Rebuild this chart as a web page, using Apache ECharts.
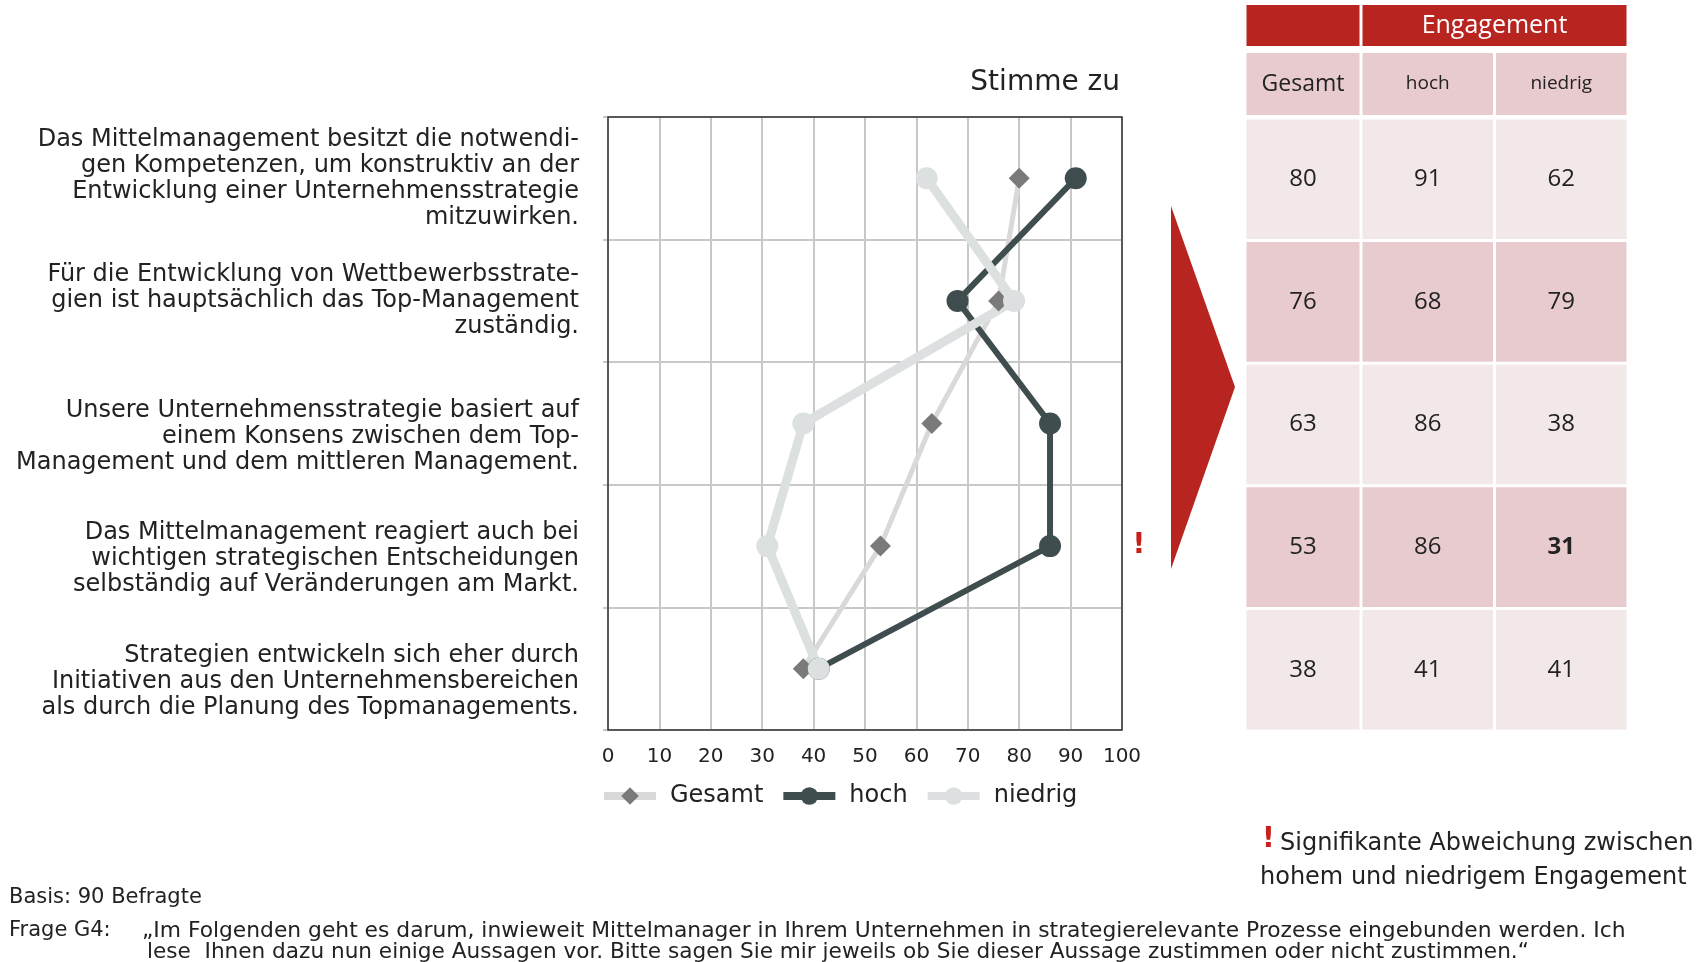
<!DOCTYPE html>
<html>
<head>
<meta charset="utf-8">
<script src="https://cdn.jsdelivr.net/npm/echarts@6/dist/echarts.min.js"></script>
<style>
  html, body { margin: 0; padding: 0; background: #fff; }
  #main { width: 1708px; height: 962px; }
</style>
</head>
<body>
<div id="main"></div>
<script>
var statements = [
  'Das Mittelmanagement besitzt die notwendi-\ngen Kompetenzen, um konstruktiv an der\nEntwicklung einer Unternehmensstrategie\nmitzuwirken.',
  'Für die Entwicklung von Wettbewerbsstrate-\ngien ist hauptsächlich das Top-Management\nzuständig.',
  'Unsere Unternehmensstrategie basiert auf\neinem Konsens zwischen dem Top-\nManagement und dem mittleren Management.',
  'Das Mittelmanagement reagiert auch bei\nwichtigen strategischen Entscheidungen\nselbständig auf Veränderungen am Markt.',
  'Strategien entwickeln sich eher durch\nInitiativen aus den Unternehmensbereichen\nals durch die Planung des Topmanagements.'
];
var gesamt = [80, 76, 63, 53, 38];
var hoch = [91, 68, 86, 86, 41];
var niedrig = [62, 79, 38, 31, 41];
var significant = [false, false, false, true, false];
var tableCols = ['Gesamt', 'hoch', 'niedrig'];

var font = 'DejaVu Sans';
var font2 = 'Open Sans';
var red = '#b8241f';
var rowLight = '#f2e8e8';
var rowDark = '#e8cbce';

// plot and table layout
var plot = { left: 608, top: 117, width: 514, height: 613 };
var tab = { left: 1245, top: 118, width: 383, height: 613 };
var colW = [116, 133.5, 133.5];

// label blocks of rows 3-5 sit a little lower than the band centre
var labelShift = [false, false, true, true, true];

var cells = [];
for (var r = 0; r < gesamt.length; r++) {
  cells.push([0, r, gesamt[r], 0]);
  cells.push([1, r, hoch[r], 0]);
  cells.push([2, r, niedrig[r], significant[r] ? 1 : 0]);
}

function colLeft(i) {
  var x = tab.left;
  for (var k = 0; k < i; k++) x += colW[k];
  return x;
}

var chart = echarts.init(document.getElementById('main'));

var option = {
  animation: false,
  textStyle: { fontFamily: font },
  title: {
    text: 'Stimme zu',
    right: 1708 - plot.left - plot.width - 3,
    top: 64,
    textStyle: { fontFamily: font, fontSize: 28, fontWeight: 'normal', color: '#222' }
  },
  legend: {
    left: 600,
    top: 784,
    padding: 0,
    itemWidth: 52,
    itemHeight: 22,
    itemGap: 16,
    lineStyle: { width: 8 },
    textStyle: { fontFamily: font, fontSize: 24, color: '#222', padding: [0, 0, 0, 9] },
    data: ['Gesamt', 'hoch', 'niedrig']
  },
  grid: [
    { left: plot.left, top: plot.top, width: plot.width, height: plot.height },
    { left: tab.left, top: tab.top, width: tab.width, height: tab.height }
  ],
  xAxis: [
    {
      type: 'value', gridIndex: 0, min: 0, max: 100, interval: 10,
      axisLine: { show: false },
      axisTick: { show: false },
      axisLabel: { fontFamily: font, fontSize: 20, color: '#222', margin: 17 },
      splitLine: { show: true, lineStyle: { color: '#c8c8c8', width: 2 } }
    },
    {
      type: 'category', gridIndex: 1, data: tableCols,
      axisLine: { show: false }, axisTick: { show: false }, axisLabel: { show: false }, splitLine: { show: false }
    }
  ],
  yAxis: [
    {
      type: 'category', gridIndex: 0, inverse: true, data: statements,
      axisLine: { show: false },
      axisTick: { show: true, length: 5, lineStyle: { color: '#c8c8c8', width: 2 } },
      splitLine: { show: true, lineStyle: { color: '#c8c8c8', width: 2 } },
      axisLabel: {
        fontFamily: font, fontSize: 24, lineHeight: 26, color: '#222', align: 'right', margin: 29,
        formatter: function (v, i) { return labelShift[i] ? '\n' + v : v; }
      }
    },
    {
      type: 'category', gridIndex: 1, inverse: true, data: statements,
      axisLine: { show: false }, axisTick: { show: false }, axisLabel: { show: false }, splitLine: { show: false }
    }
  ],
  series: [
    {
      name: 'Gesamt', type: 'line', data: gesamt, xAxisIndex: 0, yAxisIndex: 0,
      symbol: 'diamond', symbolSize: 21,
      lineStyle: { color: '#d9d9d9', width: 5 },
      itemStyle: { color: '#7a7a7a' }
    },
    {
      name: 'hoch', type: 'line', data: hoch, xAxisIndex: 0, yAxisIndex: 0,
      symbol: 'circle', symbolSize: 22,
      lineStyle: { color: '#3f4d4f', width: 6 },
      itemStyle: { color: '#3f4d4f' }
    },
    {
      name: 'niedrig', type: 'line', data: niedrig, xAxisIndex: 0, yAxisIndex: 0,
      symbol: 'circle', symbolSize: 22,
      lineStyle: { color: '#dde0e0', width: 9 },
      itemStyle: { color: '#dde0e0' }
    },
    {
      name: 'table', type: 'custom', xAxisIndex: 1, yAxisIndex: 1, data: cells,
      encode: { x: 0, y: 1 },
      renderItem: function (params, api) {
        var c = api.coord([api.value(0), api.value(1)]);
        var s = api.size([1, 1]);
        var col = api.value(0);
        var row = api.value(1);
        return {
          type: 'rect',
          shape: { x: colLeft(col) + 1.5, y: c[1] - s[1] / 2 + 1.5, width: colW[col] - 3, height: s[1] - 3 },
          style: { fill: row % 2 === 0 ? rowLight : rowDark },
          textContent: {
            style: {
              text: String(api.value(2)),
              fontFamily: font2, fontSize: 24,
              fontWeight: api.value(3) ? 'bold' : 'normal',
              fill: '#222'
            }
          },
          textConfig: { position: 'inside' }
        };
      }
    }
  ]
};
chart.setOption(option);

// header cells, frame and annotations
var excl = chart.convertToPixel({ yAxisIndex: 0 }, 3);
var graphics = [
  { type: 'rect', z: 10, shape: { x: plot.left, y: plot.top, width: plot.width, height: plot.height },
    style: { fill: null, stroke: '#333', lineWidth: 1.5 } },
  { type: 'rect', shape: { x: colLeft(0) + 1.5, y: 5, width: colW[0] - 3, height: 41 }, style: { fill: red } },
  { type: 'rect', shape: { x: colLeft(1) + 1.5, y: 5, width: colW[1] + colW[2] - 3, height: 41 },
    style: { fill: red },
    textContent: { style: { text: 'Engagement', fontFamily: font2, fontSize: 25, fill: '#fff' } },
    textConfig: { position: 'inside' } },
  { type: 'polygon', shape: { points: [[1171, 206], [1235, 387], [1171, 569]] }, style: { fill: red } },
  { type: 'text', x: 1139, y: excl, style: { text: '!', fontFamily: font, fontSize: 28, fontWeight: 'bold', fill: '#c8201c', align: 'center', verticalAlign: 'middle' } },
  { type: 'text', x: 1262, y: 840, style: { text: '!', fontFamily: font, fontSize: 28, fontWeight: 'bold', fill: '#c8201c', align: 'left', verticalAlign: 'middle' } },
  { type: 'text', x: 1280, y: 844, style: { text: 'Signifikante Abweichung zwischen', fontFamily: font, fontSize: 24, fill: '#222', verticalAlign: 'middle' } },
  { type: 'text', x: 1260, y: 878, style: { text: 'hohem und niedrigem Engagement', fontFamily: font, fontSize: 24, fill: '#222', verticalAlign: 'middle' } },
  { type: 'text', x: 9, y: 898, style: { text: 'Basis: 90 Befragte', fontFamily: font, fontSize: 21, fill: '#222', verticalAlign: 'middle' } },
  { type: 'text', x: 9, y: 931, style: { text: 'Frage G4:', fontFamily: font, fontSize: 21, fill: '#222', verticalAlign: 'middle' } },
  { type: 'text', x: 142, y: 931, style: { text: '„Im Folgenden geht es darum, inwieweit Mittelmanager in Ihrem Unternehmen in strategierelevante Prozesse eingebunden werden. Ich', fontFamily: font, fontSize: 21.8, fill: '#222', verticalAlign: 'middle' } },
  { type: 'text', x: 147, y: 952, style: { text: 'lese  Ihnen dazu nun einige Aussagen vor. Bitte sagen Sie mir jeweils ob Sie dieser Aussage zustimmen oder nicht zustimmen.“', fontFamily: font, fontSize: 21.6, fill: '#222', verticalAlign: 'middle' } }
];
for (var i = 0; i < tableCols.length; i++) {
  graphics.push({
    type: 'rect',
    shape: { x: colLeft(i) + 1.5, y: 53, width: colW[i] - 3, height: 62 },
    style: { fill: rowDark },
    textContent: { style: { text: tableCols[i], fontFamily: font2, fontSize: i === 0 ? 23 : 19, fill: '#222' } },
    textConfig: { position: 'inside' }
  });
}
chart.setOption({ graphic: graphics });
</script>
</body>
</html>
